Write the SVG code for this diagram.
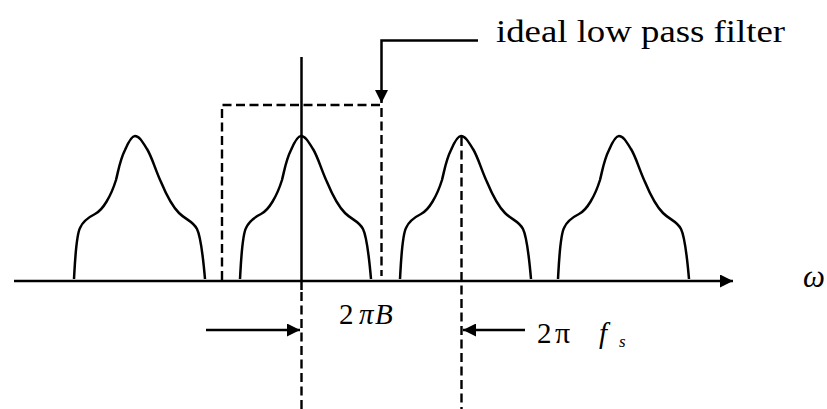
<svg xmlns="http://www.w3.org/2000/svg" width="827" height="409" viewBox="0 0 827 409">
<defs>
<style>
.solid{fill:none;stroke:#000;stroke-width:2.5}
.dash{fill:none;stroke:#000;stroke-width:2.4;stroke-dasharray:9 4.5}
.lbl{font-family:"Liberation Serif","Times New Roman",serif;fill:#000}
.it{font-style:italic}
</style>
<marker id="ah" viewBox="0 0 10 10" refX="10" refY="5" markerWidth="13" markerHeight="13" markerUnits="userSpaceOnUse" orient="auto">
<path d="M0,0 L10,5 L0,10 Z" fill="#000"/>
</marker>
<path id="pulse" d="M -61,143 C -60,125 -59,100 -55,92 C -52,85 -46,81 -40,78 C -32,74 -24,60 -19,44 C -16,32 -15,24 -10,14 C -7,7 -3,0 0,0 C 4,0 7,5 12,13 C 17,21 20,33 26,46 C 31,58 36,69 44,77 C 51,84 58,85 62,93 C 66,101 68,120 70,143"/>
</defs>
<g id="spectrum">
<use href="#pulse" class="solid" transform="translate(135,136)"/>
<use href="#pulse" class="solid" transform="translate(301,136)"/>
<use href="#pulse" class="solid" transform="translate(461,136)"/>
<use href="#pulse" class="solid" transform="translate(619,136)"/>
</g>
<g id="filter">
<path class="dash" d="M222,280 L222,105 L381.5,105 L381.5,276"/>
</g>
<g id="connectors">
<line class="solid" x1="14" y1="281" x2="733" y2="281" marker-end="url(#ah)"/>
<line class="solid" x1="301.5" y1="57" x2="301.5" y2="290"/>
<line class="dash" x1="301.5" y1="292" x2="301.5" y2="409"/>
<line class="dash" x1="461.5" y1="137" x2="461.5" y2="409"/>
<polyline class="solid" points="478,40.5 381.5,40.5 381.5,103" marker-end="url(#ah)"/>
<line class="solid" x1="206" y1="330" x2="300" y2="330" marker-end="url(#ah)"/>
<line class="solid" x1="525" y1="330" x2="463" y2="330" marker-end="url(#ah)"/>
</g>
<g id="labels">
<text class="lbl" x="496" y="42" font-size="31" textLength="289" lengthAdjust="spacingAndGlyphs">ideal low pass filter</text>
<text class="lbl it" x="803" y="287" font-size="31">ω</text>
<text class="lbl" x="339" y="324" font-size="29">2</text>
<text class="lbl it" x="359" y="324" font-size="29">π</text>
<text class="lbl it" x="375" y="324" font-size="29">B</text>
<text class="lbl" x="537" y="343" font-size="29">2</text>
<text class="lbl" x="555" y="343" font-size="30">π</text>
<text class="lbl it" x="599" y="343" font-size="29">f</text>
<text class="lbl it" x="619" y="347" font-size="17">s</text>
</g>
</svg>
